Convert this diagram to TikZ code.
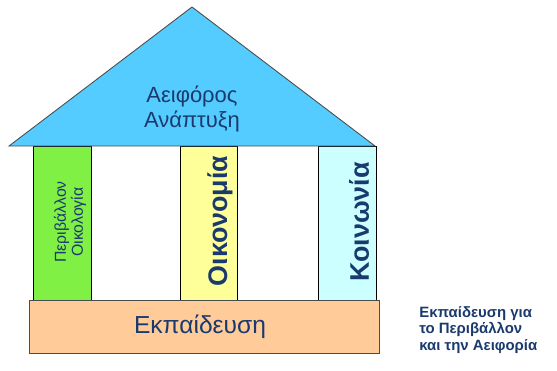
\documentclass[tikz,border=0pt]{standalone}
\usepackage{fontspec}
\setmainfont{Liberation Sans}
\usepackage{xcolor}
\usetikzlibrary{positioning}

\definecolor{roofblue}{HTML}{55CCFF}
\definecolor{ecogreen}{HTML}{80F045}
\definecolor{econyellow}{HTML}{FFFF99}
\definecolor{soccyan}{HTML}{CCFFFF}
\definecolor{basepeach}{HTML}{FFCC99}
\definecolor{textnavy}{HTML}{1A3A6E}

\tikzset{
    pillar/.style={draw=black, line width=0.5pt},
    label/.style={text=textnavy, align=center, inner sep=0pt}
}

\begin{document}
\begin{tikzpicture}[x=0.02cm, y=-0.02cm]
    \useasboundingbox (0,0) rectangle (557,370);
    % pillars
    \draw[pillar, fill=ecogreen] (33,146) rectangle (91,300);
    \draw[pillar, fill=econyellow] (180,146) rectangle (237,300);
    \draw[pillar, fill=soccyan] (318,146) rectangle (376,300);
    % roof
    \draw[fill=roofblue, draw=black!70, line width=0.5pt] (9,146) -- (192,7) -- (375,146) -- cycle;
    % base
    \draw[draw=black!70, fill=basepeach, line width=0.5pt] (29,300) rectangle (379,353);
    \node[label, font=\fontsize{12.5}{14.5}\selectfont] (goal) at (192,109) {Αειφόρος\\Ανάπτυξη};
    \node[label, font=\fontsize{9}{8.6}\selectfont, rotate=90] (env) at (70,222) {Περιβάλλον\\Οικολογία};
    \node[label, font=\fontsize{15.3}{16}\selectfont\bfseries, rotate=90] (econ) at (220,221) {Οικονομία};
    \node[label, font=\fontsize{15.3}{16}\selectfont\bfseries, rotate=90] (soc) at (359,222) {Κοινωνία};
    \node[label, font=\fontsize{14}{16}\selectfont] (edu) at (200,327) {Εκπαίδευση};
    \node[label, align=left, anchor=west, font=\fontsize{8.5}{9.2}\selectfont\bfseries] (note) at (419,330) {Εκπαίδευση για\\το Περιβάλλον\\και την Αειφορία};
\end{tikzpicture}
\end{document}
